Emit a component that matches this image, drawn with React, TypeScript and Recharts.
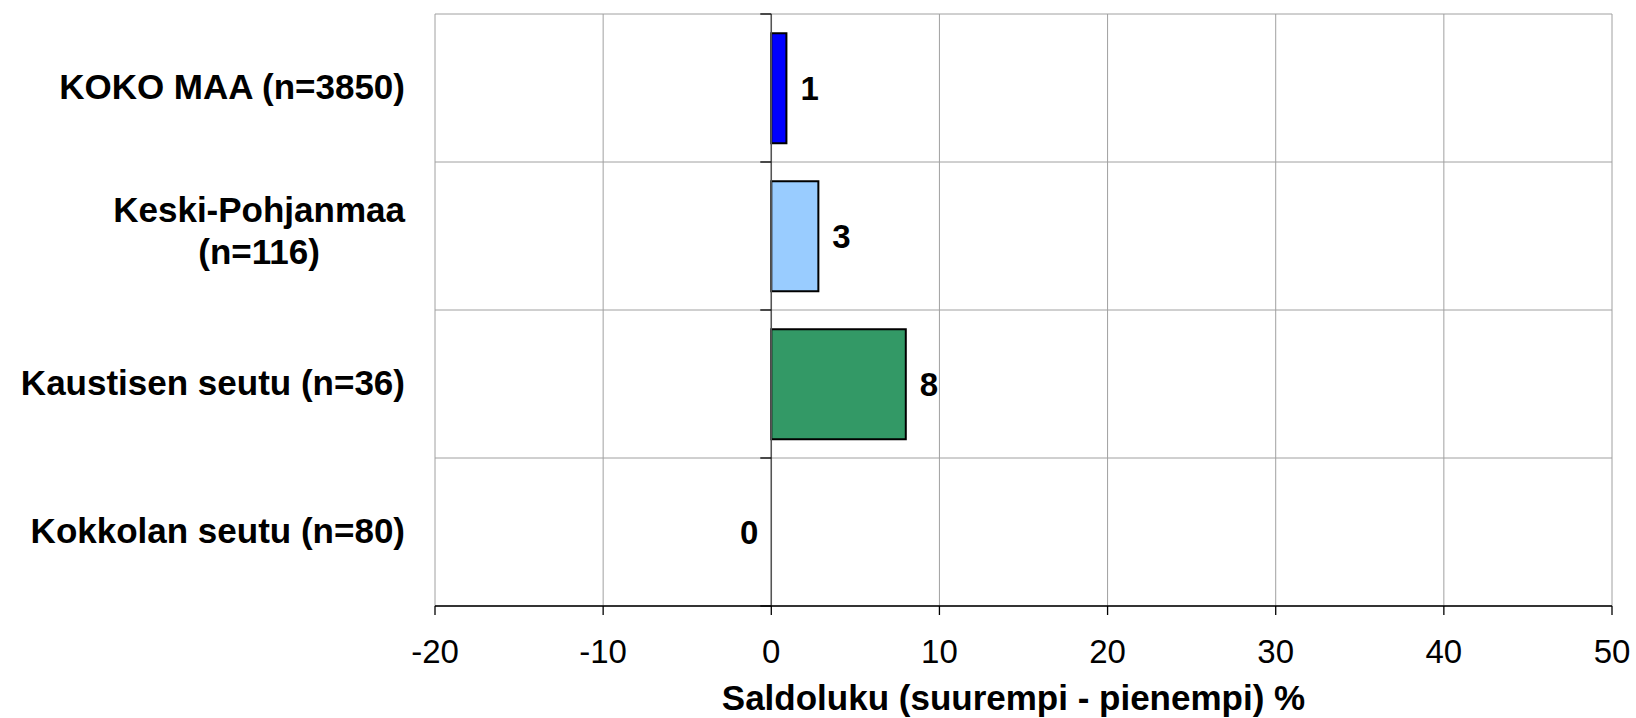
import React from 'react';
import {
  BarChart,
  Bar,
  XAxis,
  YAxis,
  CartesianGrid,
  Cell,
  ReferenceLine,
  ReferenceDot,
  Label,
} from 'recharts';

const categories = [
  'KOKO MAA (n=3850)',
  'Keski-Pohjanmaa (n=116)',
  'Kaustisen seutu (n=36)',
  'Kokkolan seutu (n=80)',
];
const values = [0.9, 2.8, 8.0, 0];
const barColors = ['#0000FF', '#99CCFF', '#339966', '#808080'];
const xTicks = [-20, -10, 0, 10, 20, 30, 40, 50];
const xAxisTitle = 'Saldoluku (suurempi - pienempi) %';

const data = categories.map((name, i) => ({ name, value: values[i] }));

const FONT = '"Liberation Sans", Arial, Helvetica, sans-serif';

let ctx: CanvasRenderingContext2D | null = null;
function measure(text: string, font: string): number {
  if (!ctx && typeof document !== 'undefined') {
    const c = document.createElement('canvas');
    ctx = c.getContext('2d');
  }
  if (!ctx) return text.length * 20;
  ctx.font = font;
  return ctx.measureText(text).width;
}

function wrap(text: string, font: string, maxWidth: number): string[] {
  const words = text.split(' ');
  const lines: string[] = [];
  let cur = '';
  for (const w of words) {
    const t = cur ? cur + ' ' + w : w;
    if (cur && measure(t, font) > maxWidth) {
      lines.push(cur);
      cur = w;
    } else {
      cur = t;
    }
  }
  if (cur) lines.push(cur);
  return lines;
}

const YTick = (props: any) => {
  const { x, y, payload } = props;
  const font = `bold 35px ${FONT}`;
  const lines = wrap(String(payload.value), font, 400);
  const widths = lines.map((l) => measure(l, font));
  const maxW = Math.max(...widths);
  const lh = 42;
  const n = lines.length;
  const shift = n > 1 ? 7 : 11;
  return (
    <g>
      {lines.map((l, i) => (
        <text
          key={i}
          x={n > 1 ? x - maxW / 2 : x}
          y={y + (i - (n - 1) / 2) * lh + shift}
          textAnchor={n > 1 ? 'middle' : 'end'}
          fontFamily={FONT}
          fontSize={35}
          fontWeight="bold"
          fill="#000"
        >
          {l}
        </text>
      ))}
    </g>
  );
};

const makeValueLabel = (v: number) => (props: any) => {
  const { cx, cy } = props;
  const positive = v > 0;
  const tx = positive ? Number(cx) + 14 : Number(cx) - 13;
  return (
    <text
      x={tx}
      y={Number(cy) + 12}
      textAnchor={positive ? 'start' : 'end'}
      fontFamily={FONT}
      fontSize={33}
      fontWeight="bold"
      fill="#000"
    >
      {Math.round(v)}
    </text>
  );
};

const ZeroAxis = (props: any) => {
  const { x1, y1, x2, y2 } = props;
  const n = categories.length;
  const ticks = [];
  for (let i = 0; i <= n; i++) {
    const ty = y1 + (i * (y2 - y1)) / n;
    ticks.push(<line key={i} x1={x1 - 11} x2={x1} y1={ty} y2={ty} stroke="#000" strokeWidth={1.3} />);
  }
  return (
    <g>
      <line x1={x1} y1={y1} x2={x2} y2={y2} stroke="#555" strokeWidth={1.5} />
      {ticks}
    </g>
  );
};

export default function App() {
  return (
    <div style={{ position: 'absolute', left: 0, top: 0, width: 1636, height: 718, background: '#fff' }}>
      <BarChart
        width={1636}
        height={718}
        data={data}
        layout="vertical"
        margin={{ top: 14, right: 24, bottom: 0, left: 0 }}
        barCategoryGap="13%"
      >
        <CartesianGrid
          stroke="#a0a0a0"
          strokeWidth={1}
          horizontalCoordinatesGenerator={({ offset }: any) => {
            const n = categories.length;
            const arr: number[] = [];
            for (let i = 0; i <= n; i++) arr.push(offset.top + (i * offset.height) / n);
            return arr;
          }}
        />
        <XAxis
          type="number"
          domain={[-20, 50]}
          ticks={xTicks}
          interval={0}
          height={112}
          allowDataOverflow
          axisLine={{ stroke: '#000', strokeWidth: 1.3 }}
          tickLine={{ stroke: '#000', strokeWidth: 1.3 }}
          tickSize={9}
          tickMargin={25}
          tick={{ fill: '#000', fontSize: 33, fontFamily: FONT }}
        >
          <Label
            value={xAxisTitle}
            position="insideBottom"
            offset={8}
            dx={-10}
            fill="#000"
            fontSize={35}
            fontWeight="bold"
            fontFamily={FONT}
          />
        </XAxis>
        <YAxis
          type="category"
          dataKey="name"
          width={435}
          axisLine={false}
          tickLine={false}
          tickSize={0}
          tickMargin={30}
          interval={0}
          tick={<YTick />}
        />
        <ReferenceLine x={0} shape={ZeroAxis} />
        <Bar dataKey="value" stroke="#000" strokeWidth={2} isAnimationActive={false}>
          {data.map((d, i) => (
            <Cell key={i} fill={barColors[i]} />
          ))}
        </Bar>
        {data.map((d, i) => (
          <ReferenceDot
            key={i}
            x={d.value}
            y={d.name}
            r={0}
            shape={makeValueLabel(d.value)}
          />
        ))}
      </BarChart>
    </div>
  );
}
